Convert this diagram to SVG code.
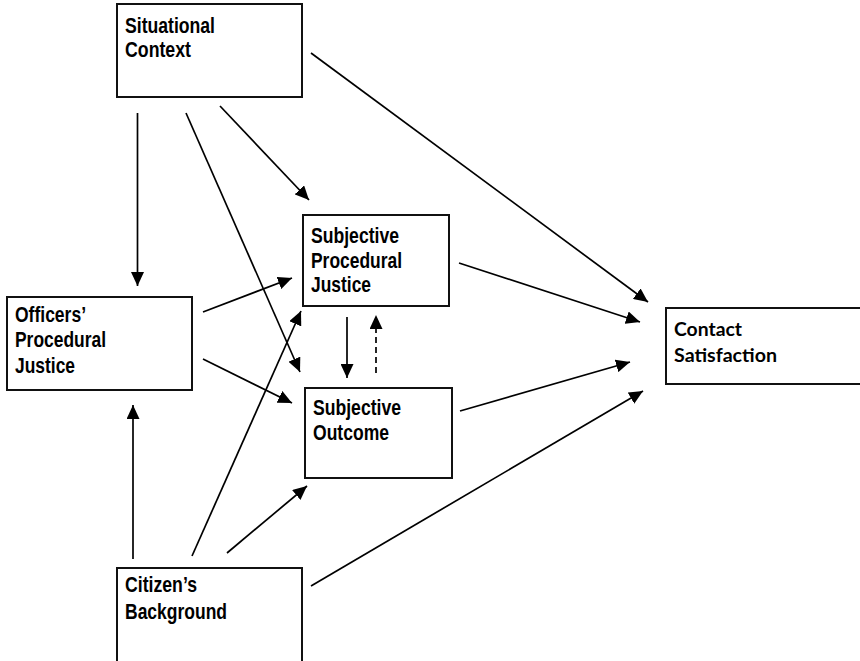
<svg xmlns="http://www.w3.org/2000/svg" width="860" height="661" viewBox="0 0 860 661">
<style>
.box{fill:#fff;stroke:#111;stroke-width:2}
.t{font-family:"Liberation Sans",Arial,sans-serif;font-weight:bold;font-size:22px;fill:#000}
.c{font-family:Lato,"Open Sans",sans-serif;font-weight:bold;font-size:19px;fill:#000}
.ln{stroke:#000;stroke-width:1.7;fill:none;marker-end:url(#ah)}
.dash{stroke-dasharray:6,4}
</style>
<defs>
<marker id="ah" markerUnits="userSpaceOnUse" markerWidth="15" markerHeight="13" refX="14" refY="6.5" orient="auto" viewBox="0 0 15 13">
<path d="M0,0 L14,6.5 L0,13 z" fill="#000"/>
</marker>
</defs>
<rect width="860" height="661" fill="#fff"/>
<g id="connectors">
<line class="ln" x1="137.5" y1="113" x2="137.5" y2="286"/>
<line class="ln" x1="186" y1="113" x2="300" y2="372"/>
<line class="ln" x1="220" y1="106" x2="309" y2="200"/>
<line class="ln" x1="311" y1="53" x2="648" y2="302"/>
<line class="ln" x1="203" y1="312" x2="292" y2="278"/>
<line class="ln" x1="203" y1="359" x2="292" y2="403"/>
<line class="ln" x1="459" y1="263" x2="640" y2="322"/>
<line class="ln" x1="460" y1="411" x2="630" y2="362"/>
<line class="ln" x1="133" y1="559" x2="133" y2="405"/>
<line class="ln" x1="192" y1="556" x2="301" y2="311"/>
<line class="ln" x1="227" y1="553" x2="307" y2="486"/>
<line class="ln" x1="311" y1="586" x2="643" y2="391"/>
<line class="ln" x1="347" y1="317" x2="347" y2="378"/>
<line class="ln dash" x1="376" y1="373" x2="376" y2="315"/>
</g>
<g id="situational-context">
<rect class="box" x="117" y="4" width="185" height="93"/>
<text class="t" x="125" y="33" textLength="90" lengthAdjust="spacingAndGlyphs">Situational</text>
<text class="t" x="125" y="57" textLength="66" lengthAdjust="spacingAndGlyphs">Context</text>
</g>
<g id="subjective-procedural-justice">
<rect class="box" x="303" y="215" width="146" height="91"/>
<text class="t" x="311" y="243" textLength="88" lengthAdjust="spacingAndGlyphs">Subjective</text>
<text class="t" x="311" y="268" textLength="91" lengthAdjust="spacingAndGlyphs">Procedural</text>
<text class="t" x="311" y="292" textLength="60" lengthAdjust="spacingAndGlyphs">Justice</text>
</g>
<g id="subjective-outcome">
<rect class="box" x="305" y="388" width="147" height="90"/>
<text class="t" x="313" y="415" textLength="88" lengthAdjust="spacingAndGlyphs">Subjective</text>
<text class="t" x="313" y="440" textLength="76" lengthAdjust="spacingAndGlyphs">Outcome</text>
</g>
<g id="officers-procedural-justice">
<rect class="box" x="7" y="297" width="185" height="93"/>
<text class="t" x="15" y="322" textLength="71" lengthAdjust="spacingAndGlyphs">Officers’</text>
<text class="t" x="15" y="347" textLength="91" lengthAdjust="spacingAndGlyphs">Procedural</text>
<text class="t" x="15" y="373" textLength="60" lengthAdjust="spacingAndGlyphs">Justice</text>
</g>
<g id="citizens-background">
<rect class="box" x="117" y="568" width="185" height="96"/>
<text class="t" x="125" y="592" textLength="72" lengthAdjust="spacingAndGlyphs">Citizen’s</text>
<text class="t" x="125" y="619" textLength="102" lengthAdjust="spacingAndGlyphs">Background</text>
</g>
<g id="contact-satisfaction">
<rect class="box" x="666" y="308" width="200" height="76"/>
<text class="c" x="674" y="336" textLength="68" lengthAdjust="spacingAndGlyphs">Contact</text>
<text class="c" x="674" y="362" textLength="103" lengthAdjust="spacingAndGlyphs">Satisfaction</text>
</g>
</svg>
